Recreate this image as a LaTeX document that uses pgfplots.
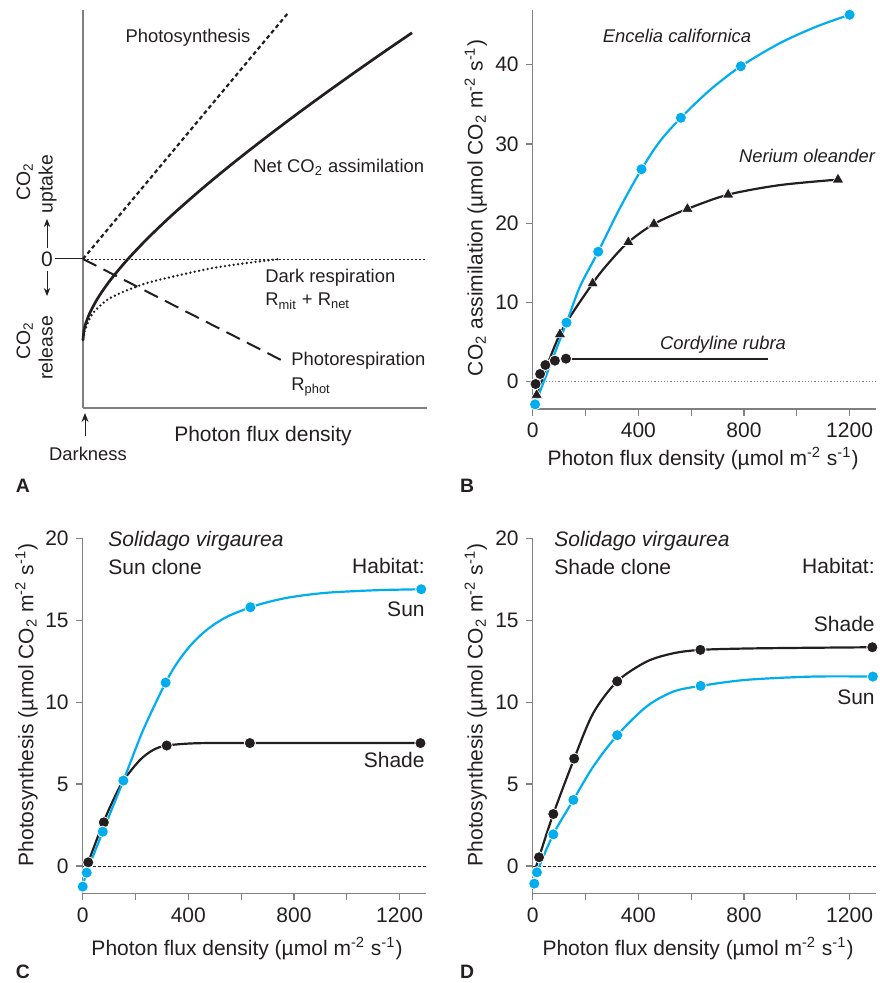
\documentclass[border=0pt]{standalone}
\usepackage{pgfplots}
\pgfplotsset{compat=1.18}
\usetikzlibrary{arrows.meta}
\usepackage{fontspec}
\setmainfont{Liberation Sans}
\definecolor{cy}{RGB}{0,174,239}
\definecolor{bk}{RGB}{35,31,32}
\definecolor{ax}{RGB}{128,128,128}
\newcommand{\fbig}{\fontsize{10.5}{12.6}\selectfont}
\newcommand{\fsm}{\fontsize{9.2}{11}\selectfont}
\newcommand{\fmid}{\fontsize{9.7}{11.6}\selectfont}
\newcommand{\unit}{(\textmu mol m\textsuperscript{-2} s\textsuperscript{-1})}
\pgfplotsset{
  panel/.style={scale only axis, anchor=south west, axis lines=left,
    axis line style={ax, line width=0.6pt, -},
    tick style={ax, line width=0.6pt}, tick align=outside, major tick length=3.5pt,
    tick label style={font=\fbig, text=bk},
    /pgf/number format/assume math mode=true, clip=false},
  bmark/.style={only marks, mark=*, mark size=2.8pt, mark options={solid, fill=bk, draw=white, line width=0.4pt}},
  cmark/.style={only marks, mark=*, mark size=2.8pt, mark options={solid, fill=cy, draw=white, line width=0.4pt}},
  tmark/.style={only marks, mark=triangle*, mark size=3.3pt, mark options={solid, fill=bk, draw=white, line width=0.3pt}},
}
\begin{document}
\begin{tikzpicture}
\begin{scope}[x=0.5pt,y=-0.5pt]
\path[use as bounding box] (0,0) rectangle (879,983);
\end{scope}

% ---------------- Panel A
\begin{axis}[panel, at={(41.5pt,-204pt)}, width=172pt, height=199pt,
  xmin=0, xmax=344, ymin=-149, ymax=249, xtick=\empty, ytick=\empty]
\addplot[bk, line width=0.4pt, dash pattern=on 1pt off 1pt] coordinates {(0,0) (344,0)};
\addplot[bk, line width=1.1pt, dash pattern=on 2pt off 1.5pt] coordinates {(0,0) (205,246)};
\addplot[bk, line width=1pt, dash pattern=on 7.5pt off 4pt] coordinates {(0,0) (202,-103)};
\addplot[bk, line width=1.3pt, line cap=round, dash pattern=on 0pt off 2.2pt, smooth] coordinates {(0,-81) (1,-74) (4,-66) (10,-54) (24,-41) (40,-33) (64,-24) (97,-16) (130,-9) (164,-4) (197,0)};
\addplot[bk, line width=1.35pt, smooth] coordinates {(0,-81) (1,-71.3) (3,-63.7) (7,-53.6) (13,-42.2) (20,-31.2) (30,-17.7) (45,0) (65,21) (90,44.8) (120,71.1) (150,95.8) (180,119.3) (210,142) (240,164) (270,185.4) (300,206.4) (329,226.2)};
\end{axis}

% ---------------- Panel B
\begin{axis}[panel, at={(266.35pt,-204.5pt)}, width=171.65pt, height=199.5pt,
  xmin=0, xmax=1300, ymin=-3.45, ymax=46.9,
  xtick={0,200,...,1200}, xticklabels={0,,400,,800,,1200}, ytick={0,10,...,40}]
\addplot[ax, line width=0.6pt, densely dotted] coordinates {(0,0) (1300,0)};
\addplot[bk, line width=1.1pt, smooth] coordinates {(15,-1.68) (103,5.98) (227,12.4) (292,15.15) (362,17.6) (459,19.9) (586,21.8) (740,23.6) (935,24.8) (1156,25.5)};
\addplot[tmark] coordinates {(15,-1.68) (103,5.98) (227,12.4) (362,17.6) (459,19.9) (586,21.8) (740,23.6) (1156,25.5)};
\addplot[bk, line width=1.1pt] coordinates {(126,2.9) (891,2.9)};
\addplot[bk, line width=1.1pt, smooth] coordinates {(11,-0.3) (28,0.97) (48,2.1) (84,2.65) (126,2.9)};
\addplot[bmark] coordinates {(11,-0.3) (28,0.97) (48,2.1) (84,2.65) (126,2.9)};
\addplot[cy, line width=1.1pt, smooth] coordinates {(9,-2.86) (128,7.45) (179,12.0) (248,16.4) (330,21.9) (412,26.8) (481,30.3) (561,33.3) (671,36.8) (788,39.8) (935,42.7) (1074,44.8) (1200,46.3)};
\addplot[cmark] coordinates {(9,-2.86) (128,7.45) (248,16.4) (412,26.8) (561,33.3) (788,39.8) (1200,46.3)};
\end{axis}

% ---------------- Panel C
\begin{axis}[panel, at={(41.35pt,-446.65pt)}, width=171.65pt, height=177.5pt,
  xmin=0, xmax=1300, ymin=-1.67, ymax=20,
  xtick={0,200,...,1200}, xticklabels={0,,400,,800,,1200}, ytick={0,5,...,20}]
\addplot[bk, line width=0.4pt, dash pattern=on 1.5pt off 1pt] coordinates {(0,0) (1300,0)};
\addplot[bk, line width=1.1pt, smooth] coordinates {(12,-0.3) (21,0.22) (78,2.64) (116,4.03) (154,5.21) (217,6.47) (267,7.08) (318,7.35) (431,7.49) (633,7.5) (1279,7.5)};
\addplot[bmark] coordinates {(21,0.22) (80,2.66) (318,7.35) (633,7.5) (1279,7.5)};
\addplot[cy, line width=1.1pt, smooth] coordinates {(0,-1.26) (15,-0.41) (76,2.09) (154,5.21) (229,8.3) (314,11.19) (360,12.45) (406,13.42) (450,14.14) (494,14.7) (550,15.24) (635,15.79) (700,16.1) (771,16.36) (850,16.55) (935,16.69) (1050,16.79) (1150,16.85) (1282,16.89)};
\addplot[cmark] coordinates {(0,-1.26) (15,-0.41) (76,2.09) (154,5.21) (314,11.19) (635,15.79) (1282,16.89)};
\end{axis}

% ---------------- Panel D
\begin{axis}[panel, at={(266.35pt,-446.65pt)}, width=171.65pt, height=177.5pt,
  xmin=0, xmax=1300, ymin=-1.67, ymax=20,
  xtick={0,200,...,1200}, xticklabels={0,,400,,800,,1200}, ytick={0,5,...,20}]
\addplot[bk, line width=0.4pt, dash pattern=on 1.5pt off 1pt] coordinates {(0,0) (1300,0)};
\addplot[bk, line width=1.1pt, smooth] coordinates {(10,-0.2) (24,0.53) (78,3.17) (157,6.55) (229,9.32) (320,11.27) (431,12.47) (532,12.98) (635,13.19) (800,13.27) (1000,13.31) (1286,13.35)};
\addplot[bmark] coordinates {(24,0.53) (78,3.17) (157,6.55) (320,11.27) (635,13.19) (1286,13.35)};
\addplot[cy, line width=1.1pt, smooth] coordinates {(6,-1.08) (16,-0.39) (78,1.93) (154,4.03) (229,6.06) (320,7.98) (431,9.73) (532,10.64) (636,10.99) (809,11.36) (1061,11.56) (1288,11.56)};
\addplot[cmark] coordinates {(6,-1.08) (16,-0.39) (78,1.93) (154,4.03) (320,7.98) (636,10.99) (1288,11.56)};
\end{axis}

% ---------------- annotations
\begin{scope}[x=0.5pt,y=-0.5pt, every node/.style={inner sep=0pt, text=bk}]
% A
\node[font=\fsm, anchor=base] at (188,42.7) {Photosynthesis};
\node[font=\fsm, anchor=base west] at (253,172.7) {Net CO\textsubscript{2} assimilation};
\node[font=\fsm, anchor=base west] at (265,282.7) {Dark respiration};
\node[font=\fsm, anchor=base west] at (265,306) {R\textsubscript{mit} + R\textsubscript{net}};
\node[font=\fsm, anchor=base west] at (291,365.7) {Photorespiration};
\node[font=\fsm, anchor=base west] at (291,390.7) {R\textsubscript{phot}};
\node[font=\fbig, anchor=base] at (263,441.7) {Photon flux density};
\node[font=\fsm, anchor=base] at (88,460.7) {Darkness};
\draw[bk, line width=0.5pt, -{Stealth[length=4.5pt, width=3.5pt]}] (85,436) -- (85,413);
\node[font=\fbig, anchor=base] at (47,266.7) {0};
\draw[bk, line width=0.5pt] (55,259) -- (83,259);
\draw[bk, line width=0.5pt, -{Stealth[length=4pt, width=3.2pt]}] (47,248) -- (47,219);
\draw[bk, line width=0.5pt, -{Stealth[length=4pt, width=3.2pt]}] (47,271) -- (47,296);
\node[font=\fmid, rotate=90, anchor=base] at (30,182) {CO\textsubscript{2}};
\node[font=\fmid, rotate=90, anchor=base] at (52.7,184) {uptake};
\node[font=\fmid, rotate=90, anchor=base] at (30,341) {CO\textsubscript{2}};
\node[font=\fmid, rotate=90, anchor=base] at (52.7,348) {release};
\node[font=\fmid\bfseries, anchor=base] at (23,492.7) {A};
% B
\node[font=\fsm\itshape, anchor=base] at (677,42.7) {Encelia californica};
\node[font=\fsm\itshape, anchor=base] at (807,162.7) {Nerium oleander};
\node[font=\fsm\itshape, anchor=base] at (723,349.3) {Cordyline rubra};
\node[font=\fbig, rotate=90, anchor=base] at (482.7,208) {CO\textsubscript{2} assimilation (\textmu mol CO\textsubscript{2} m\textsuperscript{-2} s\textsuperscript{-1})};
\node[font=\fbig, anchor=base] at (703,465) {Photon flux density \unit};
\node[font=\fmid\bfseries, anchor=base] at (467,492.7) {B};
% C
\node[font=\fbig\itshape, anchor=base west] at (108,546.7) {Solidago virgaurea};
\node[font=\fbig, anchor=base west] at (108,574) {Sun clone};
\node[font=\fbig, anchor=base east] at (425,573.3) {Habitat:};
\node[font=\fbig, anchor=base east] at (425,616.7) {Sun};
\node[font=\fbig, anchor=base east] at (425,767.3) {Shade};
\node[font=\fbig, rotate=90, anchor=base] at (33.3,705) {Photosynthesis (\textmu mol CO\textsubscript{2} m\textsuperscript{-2} s\textsuperscript{-1})};
\node[font=\fbig, anchor=base] at (247,955) {Photon flux density \unit};
\node[font=\fmid\bfseries, anchor=base] at (23,978.3) {C};
% D
\node[font=\fbig\itshape, anchor=base west] at (554,546.7) {Solidago virgaurea};
\node[font=\fbig, anchor=base west] at (554,574) {Shade clone};
\node[font=\fbig, anchor=base east] at (875,573.3) {Habitat:};
\node[font=\fbig, anchor=base east] at (875,631.7) {Shade};
\node[font=\fbig, anchor=base east] at (875,704.3) {Sun};
\node[font=\fbig, rotate=90, anchor=base] at (482.7,705) {Photosynthesis (\textmu mol CO\textsubscript{2} m\textsuperscript{-2} s\textsuperscript{-1})};
\node[font=\fbig, anchor=base] at (698,955) {Photon flux density \unit};
\node[font=\fmid\bfseries, anchor=base] at (467,978.3) {D};
\end{scope}
\end{tikzpicture}
\end{document}
